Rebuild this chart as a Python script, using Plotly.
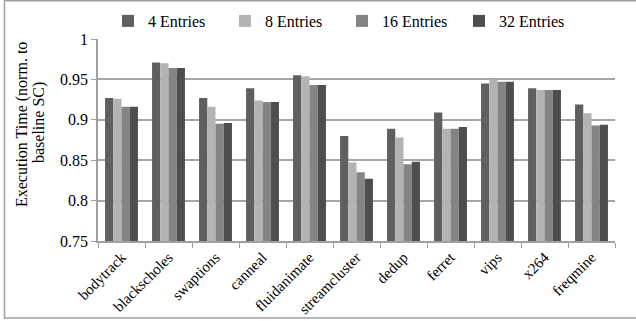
import plotly.graph_objects as go

categories = ["bodytrack", "blackscholes", "swaptions", "canneal", "fluidanimate",
              "streamcluster", "dedup", "ferret", "vips", "x264", "freqmine"]
series_names = ["4 Entries", "8 Entries", "16 Entries", "32 Entries"]
entries_4 = [0.927, 0.971, 0.927, 0.939, 0.955, 0.880, 0.889, 0.909, 0.945, 0.939, 0.919]
entries_8 = [0.926, 0.970, 0.916, 0.924, 0.954, 0.847, 0.878, 0.889, 0.950, 0.937, 0.908]
entries_16 = [0.916, 0.964, 0.895, 0.922, 0.943, 0.835, 0.845, 0.889, 0.947, 0.937, 0.893]
entries_32 = [0.916, 0.964, 0.896, 0.922, 0.943, 0.827, 0.848, 0.891, 0.947, 0.937, 0.894]
y_ticks = [0.75, 0.8, 0.85, 0.9, 0.95, 1]
y_tick_text = ["0.75", "0.8", "0.85", "0.9", "0.95", "1"]

colors = ["#5f5f5f", "#b3b3b3", "#848484", "#4e4e4e"]
FONT = "Times New Roman, Liberation Serif, serif"

fig = go.Figure()
for name, vals, c in zip(series_names, [entries_4, entries_8, entries_16, entries_32], colors):
    fig.add_trace(go.Bar(x=categories, y=vals, name=name, marker_color=c,
                         marker_line_width=0))

W, H = 636, 321
L, R, T, B = 98, 21, 39, 80
pw, ph = W - L - R, H - T - B

def px_x(p):
    return (p - L) / pw

def px_y(p):
    return (H - B - p) / ph

fig.update_layout(
    width=W, height=H,
    margin=dict(l=L, r=R, t=T, b=B, pad=0, autoexpand=False),
    paper_bgcolor="white", plot_bgcolor="white",
    font=dict(family=FONT, color="black"),
    barmode="group", bargap=0.3, bargroupgap=0,
    showlegend=True,
    legend=dict(orientation="h", x=px_x(108), xanchor="left", y=px_y(21), yanchor="middle",
                font=dict(size=16, family=FONT, color="black"), entrywidth=72,
                entrywidthmode="pixels",
                bgcolor="rgba(0,0,0,0)", itemclick=False),
    xaxis=dict(showgrid=False, showline=True, linecolor="#a0a0a0", linewidth=1.5,
               ticks="outside", tickson="boundaries", ticklen=5, tickcolor="#a0a0a0",
               tickangle=-45, tickfont=dict(size=15, family=FONT, color="black"),
               automargin=False),
    yaxis=dict(range=[0.75, 1], tickvals=y_ticks, ticktext=y_tick_text,
               showgrid=True, gridcolor="#a6a6a6", gridwidth=1.5,
               showline=True, linecolor="#a0a0a0", linewidth=1.5,
               ticks="outside", ticklen=5, tickcolor="#a0a0a0",
               tickfont=dict(size=16, family=FONT, color="black"), zeroline=False,
               automargin=False),
)

fig.add_annotation(text="Execution Time (norm. to", xref="paper", yref="paper",
                   x=px_x(22), y=px_y(125), textangle=-90, showarrow=False,
                   xanchor="center", yanchor="middle",
                   font=dict(size=16, family=FONT, color="black"))
fig.add_annotation(text="baseline SC)", xref="paper", yref="paper",
                   x=px_x(39), y=px_y(123), textangle=-90, showarrow=False,
                   xanchor="center", yanchor="middle",
                   font=dict(size=16, family=FONT, color="black"))

fig.add_shape(type="rect", xref="paper", yref="paper",
              x0=px_x(4.5), x1=px_x(640), y0=px_y(318), y1=px_y(0.8),
              line=dict(color="#a0a0a0", width=1.5), layer="below")

fig.write_html("out.html")
